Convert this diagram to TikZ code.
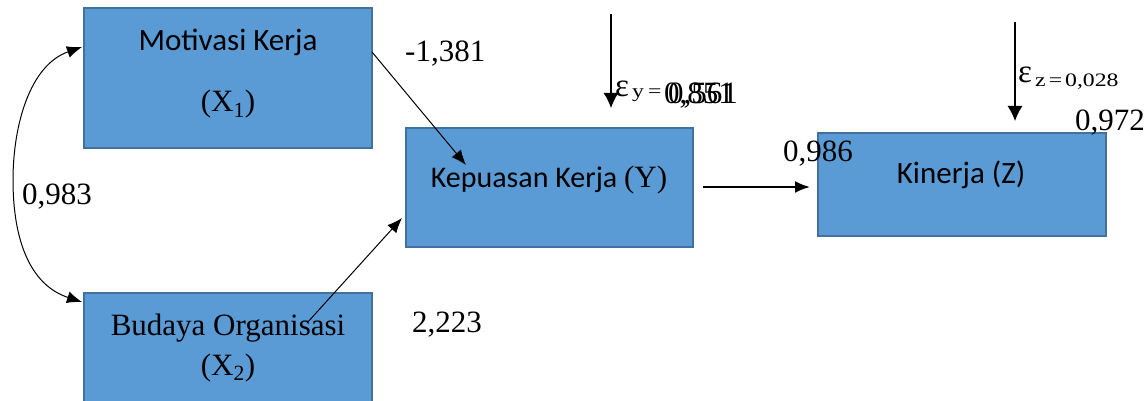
\documentclass[tikz,border=0pt]{standalone}
\usepackage{fontspec}
\setmainfont{Liberation Serif}
\newfontfamily\calibrifont{Carlito}
\newfontfamily\widesmall[FakeStretch=1.25]{Liberation Serif}
\usetikzlibrary{arrows.meta}
\definecolor{boxfill}{HTML}{5B9BD5}
\definecolor{boxborder}{HTML}{41719C}
\begin{document}
\begin{tikzpicture}[x=1pt,y=-1pt,
  box/.style={draw=boxborder, fill=boxfill, line width=2pt, rectangle, minimum width=288pt, inner sep=0pt},
  lbl/.style={anchor=base west, inner sep=0pt, font=\fontsize{31}{34}\selectfont},
  ctext/.style={anchor=base, inner sep=0pt, font=\fontsize{31}{34}\selectfont},
  stext/.style={anchor=base west, inner sep=0pt, font=\widesmall\fontsize{19}{22}\selectfont},
  arr/.style={-{Latex[length=15pt,width=12pt]}, line width=1pt},
  varr/.style={-{Latex[length=15pt,width=15pt]}, line width=1.2pt},
]
\useasboundingbox (0,0) rectangle (1147,401);
% boxes
\node[box, minimum height=140pt] (mk) at (228,78) {};
\node[box, minimum height=140pt] (bo) at (228,363) {};
\node[box, minimum height=119pt, minimum width=287pt] (kk) at (549.5,187.5) {};
\node[box, minimum height=103pt] (kz) at (962,184.5) {};
% box texts
\node[ctext, font=\calibrifont\fontsize{31}{34}\selectfont] (t1) at (228,51) {Motivasi Kerja};
\node[ctext] (t2) at (228,112) {(X\textsubscript{1})};
\node[ctext] (t3) at (228,335) {Budaya Organisasi};
\node[ctext] (t4) at (228,375) {(X\textsubscript{2})};
\node[ctext] (t5) at (549,187) {{\calibrifont\fontsize{30}{34}\selectfont Kepuasan Kerja }(Y)};
\node[ctext, font=\calibrifont\fontsize{31}{34}\selectfont] (t6) at (961,183) {Kinerja (Z)};
% coordinates
\coordinate (a1s) at (372,52);
\coordinate (a1e) at (466,165);
\coordinate (a2s) at (307,323);
\coordinate (a2e) at (402,218);
\coordinate (a3s) at (703,187);
\coordinate (a3e) at (810,187);
\coordinate (ey1) at (611,14);
\coordinate (ey2) at (611,108);
\coordinate (ez1) at (1015,22);
\coordinate (ez2) at (1015,121);
\coordinate (c1) at (82,47);
\coordinate (c2) at (82,302);
% connectors
\draw[arr] (a1s) -- (a1e);
\draw[arr] (a2s) -- (a2e);
\draw[-{Latex[length=15pt,width=12pt]}, line width=2pt] (a3s) -- (a3e);
\draw[varr] (ey1) -- (ey2);
\draw[varr] (ez1) -- (ez2);
\draw[{Latex[length=15pt,width=12pt]}-{Latex[length=15pt,width=12pt]}, line width=1pt]
  (c1) .. controls (30,65) and (13,125) .. (13,180) .. controls (13,240) and (30,285) .. (c2);
% labels
\node[lbl] (l1) at (405,62) {-1,381};
\node[lbl] (l2) at (22,204) {0,983};
\node[lbl] (l3) at (412,332) {2,223};
\node[lbl] (l4) at (783,161) {0,986};
\node[lbl] (l5) at (1075,131) {0,972};
% epsilon y
\node[lbl, font=\fontsize{33}{34}\selectfont] (ey) at (615,97) {ε};
\node[stext] (eys) at (632,98) {y\hspace{4pt}=};
\node[lbl] (eyv) at (664,103) {0,851};
\node[lbl] (eyv2) at (668,103) {0,561};
% epsilon z
\node[lbl, font=\fontsize{33}{34}\selectfont] (ez) at (1018,83) {ε};
\node[stext] (ezs) at (1035,87) {z\hspace{3pt}=\hspace{3pt}0,028};
\end{tikzpicture}
\end{document}
